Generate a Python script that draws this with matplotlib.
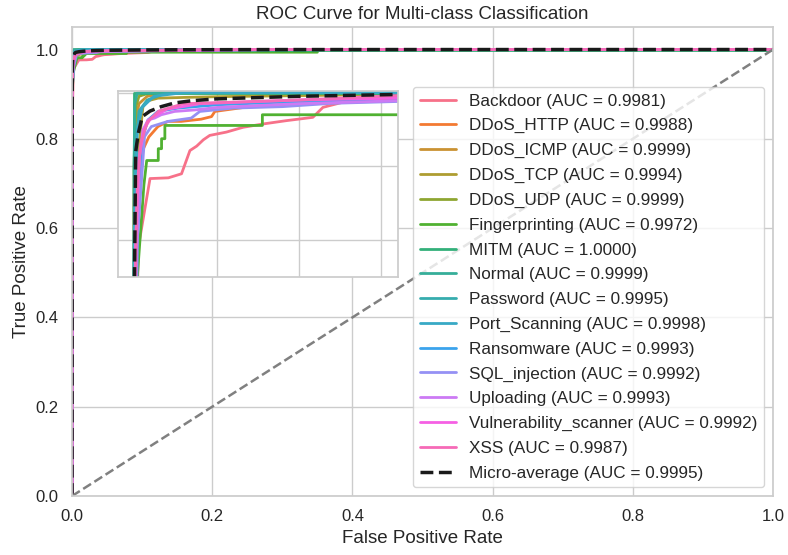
import numpy as np
import matplotlib
matplotlib.use('Agg')
import matplotlib.pyplot as plt
import seaborn as sns

# class names and AUC scores as shown in the legend
class_names = ['Backdoor', 'DDoS_HTTP', 'DDoS_ICMP', 'DDoS_TCP', 'DDoS_UDP',
               'Fingerprinting', 'MITM', 'Normal', 'Password', 'Port_Scanning',
               'Ransomware', 'SQL_injection', 'Uploading', 'Vulnerability_scanner', 'XSS']
auc_values = [0.9981, 0.9988, 0.9999, 0.9994, 0.9999, 0.9972, 1.0000, 0.9999,
              0.9995, 0.9998, 0.9993, 0.9992, 0.9993, 0.9992, 0.9987]

# ROC points (fpr, tpr)
backdoor_fpr = [0.0, 0.0, 0.0005, 0.0015, 0.0026, 0.0097, 0.0208, 0.0288, 0.0339, 0.038, 0.042,
                0.0459, 0.056, 0.0661, 0.0782, 0.0923, 0.1084, 0.1145, 0.1266, 0.1588, 0.25, 0.4, 1.0]
backdoor_tpr = [0.0, 0.7, 0.85, 0.93, 0.958, 0.9767, 0.9769, 0.978, 0.9843, 0.9855, 0.9872,
                0.9884, 0.9893, 0.9906, 0.9915, 0.9924, 0.9933, 0.996, 0.9974, 0.9983, 0.999, 1.0, 1.0]

ddos_http_fpr = [0.0, 0.0, 0.001, 0.0054, 0.009, 0.0145, 0.0206, 0.0286, 0.0407, 0.047, 0.049,
                 0.07, 0.1, 0.16, 0.25, 1.0]
ddos_http_tpr = [0.0, 0.9, 0.96, 0.9845, 0.988, 0.9908, 0.9922, 0.9922, 0.9928, 0.9935, 0.9949,
                 0.9962, 0.997, 0.998, 1.0, 1.0]

ddos_icmp_fpr = [0.0, 0.0, 0.001, 0.003, 0.008, 0.02, 1.0]
ddos_icmp_tpr = [0.0, 0.97, 0.992, 0.997, 0.999, 1.0, 1.0]

ddos_tcp_fpr = [0.0, 0.0, 0.0024, 0.0054, 0.0085, 0.0145, 0.0306, 0.0508, 0.12, 0.2, 1.0]
ddos_tcp_tpr = [0.0, 0.95, 0.9827, 0.9962, 0.9978, 0.9985, 0.9987, 0.9989, 0.9993, 1.0, 1.0]

ddos_udp_fpr = [0.0, 0.0, 0.001, 0.003, 0.01, 1.0]
ddos_udp_tpr = [0.0, 0.98, 0.996, 0.999, 1.0, 1.0]

fingerprinting_fpr = [0.0, 0.0, 0.002, 0.006, 0.0077, 0.0147, 0.0147, 0.0167, 0.0167, 0.0187,
                      0.0187, 0.0778, 0.0778, 0.35, 0.35, 1.0]
fingerprinting_tpr = [0.0, 0.9, 0.95, 0.975, 0.9816, 0.9816, 0.9848, 0.9848, 0.9875, 0.9875,
                      0.9911, 0.9911, 0.994, 0.994, 1.0, 1.0]

mitm_fpr = [0.0, 0.0, 1.0]
mitm_tpr = [0.0, 1.0, 1.0]

normal_fpr = [0.0, 0.0, 0.0005, 0.002, 1.0]
normal_tpr = [0.0, 0.98, 0.997, 1.0, 1.0]

password_fpr = [0.0, 0.0, 0.001, 0.003, 0.008, 0.02, 1.0]
password_tpr = [0.0, 0.95, 0.985, 0.995, 0.998, 1.0, 1.0]

port_scanning_fpr = [0.0, 0.0, 0.002, 0.005, 0.012, 0.03, 1.0]
port_scanning_tpr = [0.0, 0.96, 0.99, 0.996, 0.999, 1.0, 1.0]

ransomware_fpr = [0.0, 0.0, 0.002, 0.0054, 0.0085, 0.0145, 0.0266, 0.0508, 0.1, 0.15, 0.25, 1.0]
ransomware_tpr = [0.0, 0.9, 0.96, 0.9881, 0.9926, 0.9949, 0.9958, 0.9967, 0.9976, 0.9977, 1.0, 1.0]

sql_injection_fpr = [0.0, 0.0, 0.002, 0.0064, 0.0105, 0.0206, 0.0347, 0.0399, 0.06, 0.09, 0.12,
                     0.16, 0.3, 1.0]
sql_injection_tpr = [0.0, 0.9, 0.96, 0.9881, 0.9908, 0.9922, 0.9931, 0.9949, 0.9958, 0.9962, 0.9971,
                     0.9976, 1.0, 1.0]

uploading_fpr = [0.0, 0.0, 0.001, 0.0034, 0.0054, 0.0085, 0.0125, 0.0165, 0.0246, 0.0367, 0.0508,
                 0.1, 0.16, 0.25, 1.0]
uploading_tpr = [0.0, 0.9, 0.95, 0.9827, 0.9899, 0.9926, 0.9931, 0.994, 0.9949, 0.9953, 0.996,
                 0.997, 0.9978, 1.0, 1.0]

vuln_scanner_fpr = [0.0, 0.0, 0.001, 0.003, 0.006, 0.01, 0.02, 0.04, 0.1, 0.16, 0.3, 1.0]
vuln_scanner_tpr = [0.0, 0.9, 0.96, 0.982, 0.99, 0.993, 0.9955, 0.997, 0.998, 0.9985, 1.0, 1.0]

xss_fpr = [0.0, 0.0, 0.0008, 0.002, 0.004, 0.008, 0.015, 0.03, 0.1, 0.2, 1.0]
xss_tpr = [0.0, 0.85, 0.95, 0.975, 0.986, 0.992, 0.995, 0.997, 0.998, 1.0, 1.0]

micro_fpr = [0.0, 0.0003, 0.001, 0.0026, 0.005, 0.0097, 0.0165, 0.0246, 0.035, 0.05, 0.1, 0.16, 0.3, 1.0]
micro_tpr = [0.0, 0.95, 0.984, 0.989, 0.9935, 0.995, 0.9962, 0.9972, 0.9978, 0.9983, 0.999, 0.9995,
             0.9999, 1.0]
micro_auc = 0.9995

all_fpr = [backdoor_fpr, ddos_http_fpr, ddos_icmp_fpr, ddos_tcp_fpr, ddos_udp_fpr,
           fingerprinting_fpr, mitm_fpr, normal_fpr, password_fpr, port_scanning_fpr,
           ransomware_fpr, sql_injection_fpr, uploading_fpr, vuln_scanner_fpr, xss_fpr]
all_tpr = [backdoor_tpr, ddos_http_tpr, ddos_icmp_tpr, ddos_tcp_tpr, ddos_udp_tpr,
           fingerprinting_tpr, mitm_tpr, normal_tpr, password_tpr, port_scanning_tpr,
           ransomware_tpr, sql_injection_tpr, uploading_tpr, vuln_scanner_tpr, xss_tpr]

sns.set_theme(style='whitegrid')
plt.rcParams['font.family'] = ['Liberation Sans', 'DejaVu Sans']

colors = sns.color_palette('husl', len(class_names))

fig, ax = plt.subplots(figsize=(7.88, 5.55), dpi=100)
fig.subplots_adjust(left=0.0914, right=0.981, bottom=0.1063, top=0.951)

for name, auc_val, fpr, tpr, c in zip(class_names, auc_values, all_fpr, all_tpr, colors):
    ax.plot(fpr, tpr, color=c, lw=2, label=f'{name} (AUC = {auc_val:.4f})')
ax.plot(micro_fpr, micro_tpr, 'k--', lw=2.5, label=f'Micro-average (AUC = {micro_auc:.4f})')
ax.plot([0, 1], [0, 1], '--', color='gray', lw=1.8)

ax.set_xlim(0.0, 1.0)
ax.set_ylim(0.0, 1.05)
ax.set_xlabel('False Positive Rate', fontsize=13.5)
ax.set_ylabel('True Positive Rate', fontsize=13.5)
ax.set_title('ROC Curve for Multi-class Classification', fontsize=13.5)
ax.tick_params(labelsize=12)
ax.legend(loc='lower right', fontsize=12.3, labelspacing=0.57, handlelength=2.1)

# zoomed view of the top-left corner
axins = ax.inset_axes([0.0656, 0.467, 0.3994, 0.3966])
for fpr, tpr, c in zip(all_fpr, all_tpr, colors):
    axins.plot(fpr, tpr, color=c, lw=2)
axins.plot(micro_fpr, micro_tpr, 'k--', lw=2.5)
axins.set_xlim(-0.0097, 0.16)
axins.set_ylim(0.95, 1.0004)
axins.set_xticks([0.0, 0.05, 0.10, 0.15])
axins.set_yticks([0.96, 0.98, 1.0])
axins.set_xticklabels([])
axins.set_yticklabels([])

plt.savefig('out.png', dpi=100)
plt.close()
